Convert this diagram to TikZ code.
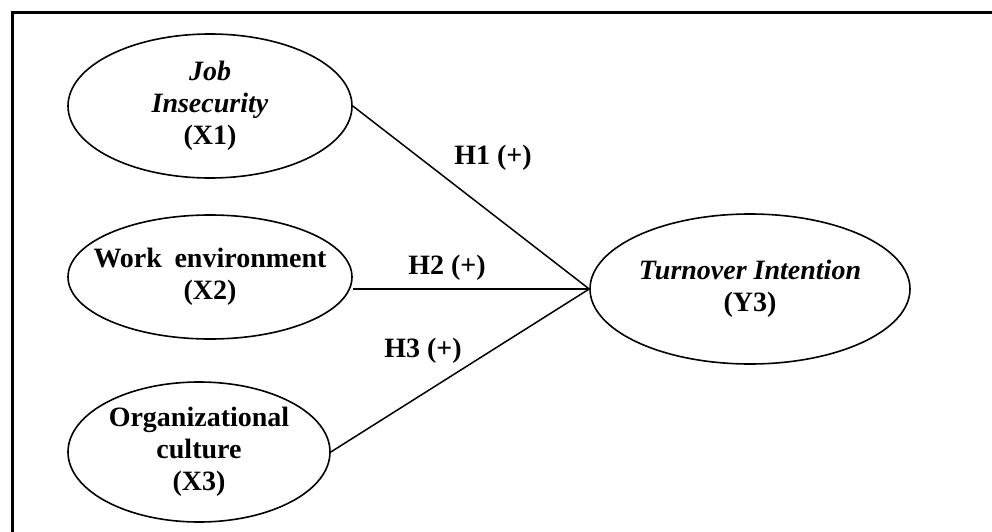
\documentclass[tikz,border=0pt]{standalone}
\usepackage{fontspec}
\setmainfont{Liberation Serif}
\usetikzlibrary{shapes.geometric}
\tikzset{
  construct/.style={
    ellipse, draw=black, line width=1.6pt, inner sep=-30pt, align=center,
    font=\fontsize{28}{32}\selectfont\bfseries
  },
  link/.style={draw=black, line width=1.5pt},
  hyp/.style={font=\fontsize{28}{32}\selectfont\bfseries, inner sep=0pt}
}
\begin{document}
\begin{tikzpicture}[x=1pt,y=-1pt]
        \useasboundingbox (0,0) rectangle (992,532);
        \draw[line width=3pt] (12,533) -- (12,13) -- (993,13);
        \node[construct,minimum width=284pt,minimum height=144pt] (ji) at (210,106)
          {\textit{Job}\\\textit{Insecurity}\\(X1)};
        \node[construct,minimum width=284pt,minimum height=124pt] (we) at (210,277)
          {Work\hspace{0.2em} environment\\(X2)};
        \node[construct,minimum width=262pt,minimum height=140pt] (oc) at (199,452)
          {Organizational\\culture\\(X3)};
        \node[construct,minimum width=320pt,minimum height=150pt] (ti) at (750,289)
          {\textit{Turnover Intention}\\(Y3)};
        \draw[link] (ji.east) -- (ti.west);
        \draw[link] (we.east |- ti.west) -- (ti.west);
        \draw[link] (oc.east) -- (ti.west);
        \node[hyp] (h1) at (493,158) {H1 (+)};
        \node[hyp] (h2) at (447,268) {H2 (+)};
        \node[hyp] (h3) at (423,351) {H3 (+)};
      \end{tikzpicture}
\end{document}
